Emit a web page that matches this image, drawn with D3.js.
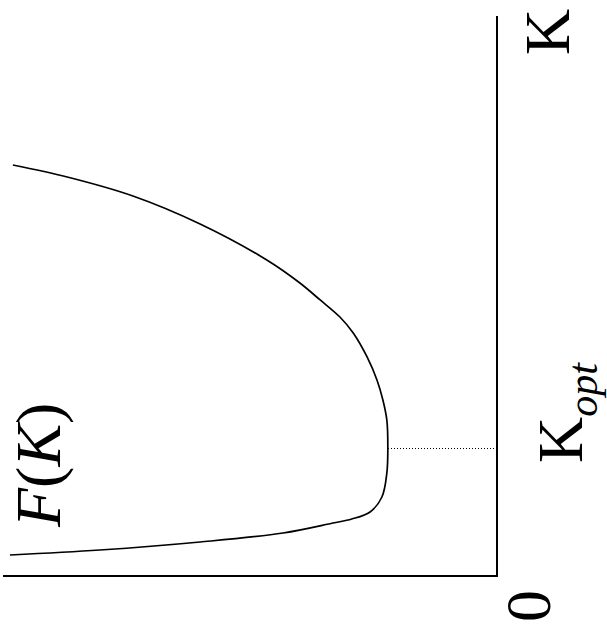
<!DOCTYPE html>
<html lang="en">
    <head>
        <meta charset="utf-8">
        <title>F(K) con K optimo</title>
        <script type="text/javascript" src="https://d3js.org/d3.v7.min.js"></script>
        <style>
            body { margin: 0; background: #fff; }
            text { font-family: "Liberation Serif", "Times New Roman", serif; fill: #000; }
        </style>
    </head>

    <body>

        <script type="text/javascript">

            // Grafico girado: K va hacia arriba (eje vertical), F(K) hacia la izquierda
            var w = 607;
            var h = 638;

            // Datos (K, F(K))
            var kValues = [0.375, 0.464, 0.607, 0.768, 0.946, 1.018, 1.143, 1.411, 1.839, 2.286, 2.786, 3.143, 3.5, 3.911, 4.339, 4.625, 4.929, 5.232, 5.643, 6.286, 6.786, 7.125, 7.339];
            var fValues = [9.86, 8.04, 6.01, 4.33, 3.32, 2.94, 2.57, 2.33, 2.23, 2.21, 2.23, 2.31, 2.43, 2.63, 2.91, 3.18, 3.58, 3.99, 4.66, 6.01, 7.37, 8.70, 9.80];
            var kOpt = 2.286;
            var fOpt = 2.21;
            var tickLabels = ["0", "K"];

            var svg = d3.select("body")
                .append("svg")
                .attr("width", w)
                .attr("height", h);

            // Escalas: K -> y de la pantalla, F -> x de la pantalla
            var kScale = d3.scaleLinear().domain([0, 10]).range([576, 16]);
            var fScale = d3.scaleLinear().domain([0, 10]).range([497, 3]);

            // Ejes (solo las lineas)
            svg.append("line")
                .attr("x1", fScale(0)).attr("x2", fScale(0))
                .attr("y1", kScale(10)).attr("y2", kScale(0))
                .attr("stroke", "#000").attr("stroke-width", 2);
            svg.append("line")
                .attr("x1", fScale(10)).attr("x2", fScale(0) + 1)
                .attr("y1", kScale(0)).attr("y2", kScale(0))
                .attr("stroke", "#000").attr("stroke-width", 2);

            // Curva F(K)
            var datos = kValues.map(function(k, i) { return { k: k, f: fValues[i] }; });
            var linea = d3.line()
                .x(function(d) { return fScale(d.f); })
                .y(function(d) { return kScale(d.k); })
                .curve(d3.curveCatmullRom.alpha(0.5));

            svg.append("path")
                .datum(datos)
                .attr("d", linea)
                .attr("fill", "none")
                .attr("stroke", "#000")
                .attr("stroke-width", 1.7);

            // Linea punteada en K optimo
            svg.append("line")
                .attr("x1", fScale(fOpt)).attr("x2", fScale(0))
                .attr("y1", kScale(kOpt) + 0.5).attr("y2", kScale(kOpt) + 0.5)
                .attr("stroke", "#000").attr("stroke-width", 1)
                .attr("stroke-dasharray", "1,2")
                .attr("shape-rendering", "crispEdges");

            // Textos girados
            function girado(x, y) {
                return "translate(" + x + "," + y + ") rotate(-90)";
            }

            svg.append("text")
                .attr("transform", girado(550, kScale(0) + 30))
                .attr("text-anchor", "middle")
                .attr("font-size", 64)
                .text(tickLabels[0]);

            svg.append("text")
                .attr("transform", girado(569, 55))
                .attr("font-size", 64)
                .text(tickLabels[1]);

            var kopt = svg.append("text")
                .attr("transform", girado(582, 463))
                .attr("font-size", 64);
            kopt.append("tspan").text("K");
            kopt.append("tspan")
                .attr("font-style", "italic")
                .attr("font-size", 42)
                .attr("dy", 15)
                .text("opt");

            var fk = svg.append("text")
                .attr("transform", girado(60, 527))
                .attr("font-size", 64);
            fk.append("tspan").attr("font-style", "italic").text("F");
            fk.append("tspan").text("(");
            fk.append("tspan").attr("font-style", "italic").text("K");
            fk.append("tspan").text(")");

        </script>
    </body>
</html>
